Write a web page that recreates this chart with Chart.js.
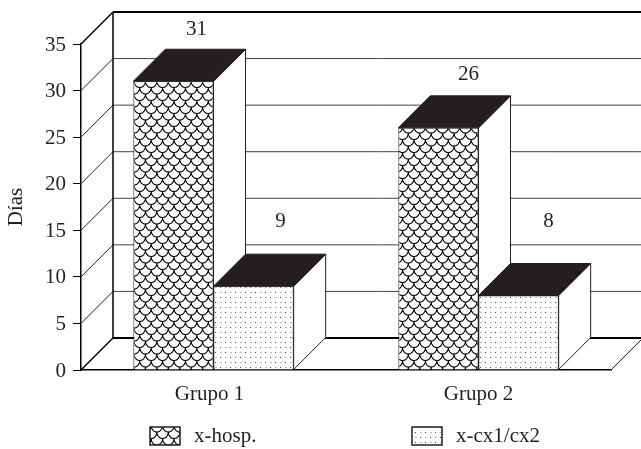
<!DOCTYPE html>
<html lang="es">
<head>
    <meta charset="UTF-8">
    <title>Días por grupo</title>
    <style type="text/css">
        html, body { margin: 0; padding: 0; background: #fff; }
        .chartBox { width: 641px; height: 449px; }
    </style>
</head>
<body>
    <div class="chartBox">
        <canvas id="myChart" width="641" height="449"></canvas>
    </div>

    <script src="https://cdn.jsdelivr.net/npm/chart.js"></script>
    <script>
    // data
    const categories = ['Grupo 1', 'Grupo 2'];
    const seriesNames = ['x-hosp.', 'x-cx1/cx2'];
    const hospValues = [31, 26];
    const cxValues = [9, 8];
    const yTicks = [0, 5, 10, 15, 20, 25, 30, 35];

    const ink = '#231f20';
    const depth = 32;
    const fontName = '"Liberation Serif", serif';

    // fish scale fill
    function scalePattern() {
        const tile = document.createElement('canvas');
        tile.width = 24;
        tile.height = 24;
        const c = tile.getContext('2d');
        c.fillStyle = '#fff';
        c.fillRect(0, 0, 24, 24);
        c.strokeStyle = '#000';
        c.lineWidth = 2.2;
        [[12, 0], [0, 12], [24, 12], [12, 24], [0, -12], [24, -12]].forEach(p => {
            c.beginPath();
            c.arc(p[0], p[1], 12, 0, Math.PI);
            c.stroke();
        });
        const pattern = c.createPattern(tile, 'repeat');
        pattern.setTransform(new DOMMatrix([80 / 7 / 24, 0, 0, 13 / 24, 134, 81]));
        return pattern;
    }

    // dotted fill
    function dotPattern() {
        const tile = document.createElement('canvas');
        tile.width = 10;
        tile.height = 10;
        const c = tile.getContext('2d');
        c.fillStyle = '#fff';
        c.fillRect(0, 0, 10, 10);
        c.fillStyle = '#444';
        c.fillRect(5, 2, 1, 1);
        c.fillRect(0, 7, 1, 1);
        c.fillStyle = '#bbb';
        c.fillRect(0, 2, 2, 1);
        c.fillRect(5, 7, 2, 1);
        return c.createPattern(tile, 'repeat');
    }

    function line(ctx, x1, y1, x2, y2, width, color) {
        ctx.beginPath();
        ctx.lineWidth = width;
        ctx.strokeStyle = color;
        ctx.moveTo(x1, y1);
        ctx.lineTo(x2, y2);
        ctx.stroke();
    }

    function face(ctx, pts, fill) {
        ctx.beginPath();
        pts.forEach((p, i) => i ? ctx.lineTo(p[0], p[1]) : ctx.moveTo(p[0], p[1]));
        ctx.closePath();
        ctx.fillStyle = fill;
        ctx.fill();
        ctx.lineWidth = 1;
        ctx.strokeStyle = ink;
        ctx.stroke();
    }

    const box3d = {
        id: 'box3d',
        beforeDraw(chart, args, opts) {
            // first category label sits a little left of its group in the original
            chart.scales.x.getLabelItems()[0].options.translation[0] += opts.firstLabelNudge;
        },
        beforeDatasetsDraw(chart) {
            const ctx = chart.ctx;
            const area = chart.chartArea;
            const yScale = chart.scales.y;
            ctx.save();

            // back wall and side wall
            yTicks.forEach(t => {
                const y = yScale.getPixelForValue(t);
                const strong = t === 0 || t === 35;
                line(ctx, area.left, y, area.left + depth, y - depth, strong ? 1.5 : 1, strong ? '#000' : ink);
                line(ctx, area.left + depth, y - depth, area.right + depth, y - depth, strong ? 2 : 1, strong ? '#000' : '#444');
            });
            line(ctx, area.left + depth, area.top - depth, area.left + depth, area.bottom - depth, 1.5, '#000');
            line(ctx, area.right, area.bottom, area.right + depth, area.bottom - depth, 1, ink);

            // side and top of the bars, the fronts come from chart.js
            chart.data.datasets.forEach((ds, d) => {
                chart.getDatasetMeta(d).data.forEach(bar => {
                    const l = bar.x - bar.width / 2;
                    const r = bar.x + bar.width / 2;
                    face(ctx, [[r, bar.y], [r + depth, bar.y - depth], [r + depth, bar.base - depth], [r, bar.base]], '#fff');
                    face(ctx, [[l, bar.y], [l + depth, bar.y - depth], [r + depth, bar.y - depth], [r, bar.y]], ink);
                });
            });
            ctx.restore();
        },
        afterDraw(chart, args, opts) {
            const ctx = chart.ctx;
            ctx.save();
            ctx.font = '21px ' + fontName;
            ctx.fillStyle = ink;
            ctx.textBaseline = 'middle';

            // value labels
            ctx.textAlign = 'center';
            chart.data.datasets.forEach((ds, d) => {
                chart.getDatasetMeta(d).data.forEach((bar, i) => {
                    const shift = opts.labelShift[d][i];
                    ctx.fillText(ds.data[i], bar.x + shift[0], bar.y - depth + shift[1]);
                });
            });

            // legend
            ctx.textAlign = 'left';
            chart.data.datasets.forEach((ds, d) => {
                const x = opts.legendX[d];
                ctx.fillStyle = ds.backgroundColor;
                ctx.fillRect(x, 427, 30, 18);
                ctx.lineWidth = 1.5;
                ctx.strokeStyle = ink;
                ctx.strokeRect(x, 427, 30, 18);
                ctx.fillStyle = ink;
                ctx.fillText(ds.label, x + 44, 436);
            });
            ctx.restore();
        }
    };

    const data = {
        labels: categories,
        datasets: [{
            label: seriesNames[0],
            data: hospValues,
            backgroundColor: scalePattern(),
            borderColor: ink,
            borderWidth: 1
        }, {
            label: seriesNames[1],
            data: cxValues,
            backgroundColor: dotPattern(),
            borderColor: ink,
            borderWidth: 1
        }]
    };

    const config = {
        type: 'bar',
        data,
        plugins: [box3d],
        options: {
            responsive: false,
            animation: false,
            barPercentage: 1,
            categoryPercentage: 0.605,
            layout: { padding: { top: 44, right: 30, left: 0, bottom: 0 } },
            plugins: {
                legend: { display: false },
                tooltip: { enabled: false },
                box3d: {
                    labelShift: [[[23, -20], [30, -21]], [[27, -33], [30, -42]]],
                    legendX: [150, 412],
                    firstLabelNudge: -4
                }
            },
            scales: {
                y: {
                    min: 0,
                    max: 35,
                    afterFit: s => { s.width = 81; },
                    afterBuildTicks: s => { s.ticks = yTicks.map(v => ({ value: v })); },
                    title: {
                        display: true,
                        text: 'Días',
                        color: ink,
                        font: { family: fontName, size: 21 },
                        padding: { top: 4, bottom: 0 }
                    },
                    ticks: {
                        color: ink,
                        font: { family: fontName, size: 21 },
                        padding: 7,
                        labelOffset: 1
                    },
                    grid: { drawOnChartArea: false, drawTicks: true, tickLength: 8, color: '#000' },
                    border: { display: true, color: '#000', width: 1.5 }
                },
                x: {
                    afterFit: s => { s.height = 79; },
                    ticks: {
                        color: ink,
                        font: { family: fontName, size: 21 },
                        padding: 12,
                        maxRotation: 0
                    },
                    grid: { display: false, drawTicks: false },
                    border: { display: true, color: '#000', width: 1.5 }
                }
            }
        }
    };

    const myChart = new Chart(document.getElementById('myChart'), config);
    </script>
</body>
</html>
